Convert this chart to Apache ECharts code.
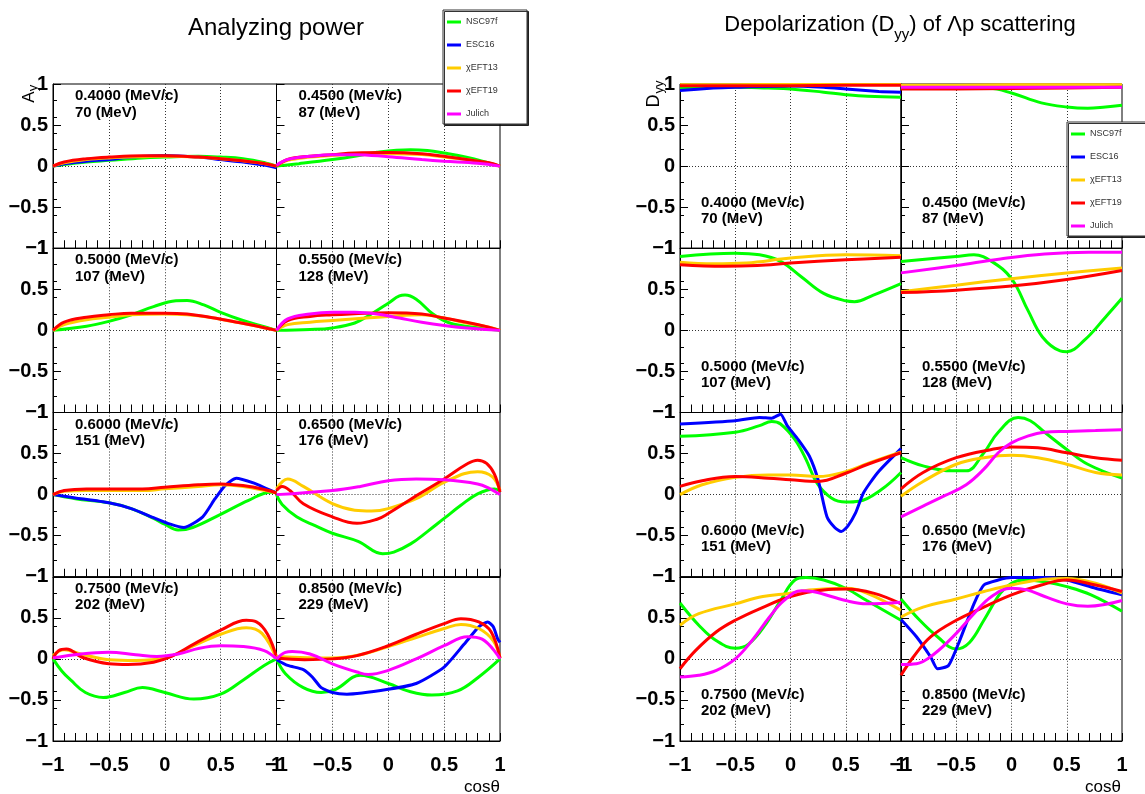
<!DOCTYPE html>
<html>
<head>
<meta charset="utf-8">
<script src="https://cdn.jsdelivr.net/npm/echarts@6/dist/echarts.min.js"></script>
<style>
  html, body { margin: 0; padding: 0; background: #fff; }
  #chart { width: 1145px; height: 794px; }
</style>
</head>
<body>
<div id="chart"></div>
<script>
// Model names (legend order) and beam settings for the eight panels
const MODELS = ['NSC97f', 'ESC16', 'χEFT13', 'χEFT19', 'Julich'];
const MOMENTA = ['0.4000', '0.4500', '0.5000', '0.5500', '0.6000', '0.6500', '0.7500', '0.8500'];
const ENERGIES = ['70', '87', '107', '128', '151', '176', '202', '229'];

// Analyzing power A_y vs cos(theta); each panel lists [NSC97f, ESC16, χEFT13, χEFT19, Julich]
const AY_0400 = [
  [[-1,0],[-0.9,0.02],[-0.7,0.05],[-0.5,0.07],[-0.2,0.1],[0,0.11],[0.3,0.12],[0.5,0.11],[0.7,0.09],[0.9,0.04],[1,0]],
  [[-1,0],[-0.9,0.03],[-0.7,0.06],[-0.5,0.08],[-0.3,0.11],[0,0.13],[0.3,0.11],[0.5,0.08],[0.7,0.05],[0.9,0.01],[1,-0.02]],
  [[-1,0],[-0.9,0.04],[-0.7,0.08],[-0.5,0.1],[-0.2,0.115],[0,0.12],[0.3,0.11],[0.5,0.09],[0.7,0.065],[0.9,0.03],[1,0]],
  [[-1,0],[-0.9,0.05],[-0.7,0.09],[-0.5,0.11],[-0.2,0.125],[0,0.125],[0.3,0.11],[0.5,0.09],[0.7,0.065],[0.9,0.03],[1,0]],
  null
];
const AY_0450 = [
  [[-1,0],[-0.8,0.03],[-0.5,0.08],[-0.3,0.12],[-0.1,0.17],[0.2,0.2],[0.35,0.19],[0.5,0.16],[0.7,0.11],[0.9,0.04],[1,0]],
  null,
  [[-1,0],[-0.9,0.07],[-0.7,0.11],[-0.5,0.13],[-0.2,0.15],[0,0.15],[0.3,0.14],[0.5,0.11],[0.7,0.08],[0.9,0.03],[1,0]],
  [[-1,0],[-0.9,0.08],[-0.7,0.12],[-0.5,0.14],[-0.3,0.16],[0,0.165],[0.3,0.15],[0.5,0.12],[0.7,0.08],[0.9,0.04],[1,0]],
  [[-1,0.01],[-0.9,0.08],[-0.7,0.12],[-0.5,0.14],[-0.3,0.14],[0,0.115],[0.3,0.08],[0.5,0.06],[0.8,0.035],[1,0]]
];
const AY_0500 = [
  [[-1,0],[-0.7,0.05],[-0.5,0.11],[-0.3,0.19],[-0.1,0.29],[0.1,0.36],[0.2,0.365],[0.35,0.31],[0.5,0.22],[0.7,0.12],[0.85,0.06],[1,0]],
  null,
  [[-1,0],[-0.9,0.07],[-0.7,0.13],[-0.5,0.16],[-0.3,0.19],[0,0.2],[0.2,0.19],[0.4,0.16],[0.6,0.11],[0.8,0.06],[1,0]],
  [[-1,0],[-0.9,0.1],[-0.7,0.16],[-0.5,0.19],[-0.3,0.21],[0,0.21],[0.2,0.2],[0.4,0.16],[0.6,0.11],[0.8,0.06],[1,0]],
  null
];
const AY_0550 = [
  [[-1,0],[-0.7,0.01],[-0.5,0.03],[-0.3,0.09],[-0.15,0.2],[0,0.33],[0.1,0.42],[0.15,0.43],[0.25,0.38],[0.4,0.2],[0.55,0.09],[0.75,0.04],[1,0]],
  null,
  [[-1,0],[-0.9,0.07],[-0.7,0.1],[-0.5,0.12],[-0.2,0.15],[0,0.17],[0.3,0.19],[0.5,0.15],[0.7,0.09],[0.9,0.04],[1,0]],
  [[-1,0],[-0.9,0.12],[-0.7,0.17],[-0.5,0.19],[-0.2,0.21],[0,0.215],[0.3,0.2],[0.5,0.15],[0.7,0.1],[0.9,0.04],[1,0]],
  [[-1,0],[-0.9,0.14],[-0.7,0.2],[-0.5,0.22],[-0.3,0.22],[-0.1,0.2],[0.1,0.15],[0.3,0.1],[0.5,0.06],[0.7,0.03],[1,0]]
];
const AY_0600 = [
  [[-1,0],[-0.8,-0.05],[-0.5,-0.1],[-0.3,-0.17],[-0.1,-0.29],[0,-0.36],[0.12,-0.43],[0.25,-0.4],[0.5,-0.24],[0.75,-0.07],[0.95,0.03],[1,0.03]],
  [[-1,0],[-0.8,-0.04],[-0.5,-0.1],[-0.3,-0.17],[-0.1,-0.28],[0.05,-0.36],[0.17,-0.4],[0.34,-0.27],[0.45,-0.05],[0.54,0.11],[0.64,0.2],[0.8,0.14],[0.9,0.08],[1,0.02]],
  [[-1,0],[-0.9,0.04],[-0.7,0.05],[-0.5,0.05],[-0.2,0.05],[0,0.07],[0.3,0.1],[0.5,0.12],[0.7,0.1],[0.9,0.05],[1,0.02]],
  [[-1,0],[-0.9,0.05],[-0.7,0.07],[-0.5,0.07],[-0.2,0.07],[0,0.09],[0.3,0.12],[0.5,0.13],[0.7,0.11],[0.9,0.06],[1,0.02]],
  null
];
const AY_0650 = [
  [[-1,0],[-0.95,-0.12],[-0.82,-0.27],[-0.65,-0.38],[-0.5,-0.47],[-0.27,-0.57],[-0.05,-0.72],[0.05,-0.7],[0.2,-0.6],[0.35,-0.45],[0.5,-0.29],[0.65,-0.13],[0.8,0.01],[0.95,0.07],[1,0.05]],
  null,
  [[-1,0.07],[-0.9,0.19],[-0.76,0.1],[-0.5,-0.11],[-0.3,-0.19],[-0.15,-0.2],[0,-0.17],[0.28,-0.03],[0.5,0.15],[0.8,0.28],[0.93,0.22],[1,0.05]],
  [[-1,0.05],[-0.95,0.1],[-0.88,0.05],[-0.76,-0.11],[-0.5,-0.27],[-0.28,-0.35],[-0.1,-0.3],[0,-0.23],[0.28,0.01],[0.5,0.19],[0.7,0.37],[0.8,0.42],[0.88,0.38],[0.95,0.25],[1,0.03]],
  [[-1,0],[-0.5,0.05],[-0.25,0.1],[0,0.17],[0.25,0.19],[0.5,0.18],[0.8,0.13],[0.9,0.08],[1,0]]
];
const AY_0750 = [
  [[-1,0],[-0.92,-0.15],[-0.84,-0.26],[-0.71,-0.41],[-0.55,-0.47],[-0.36,-0.41],[-0.2,-0.35],[0,-0.41],[0.26,-0.49],[0.5,-0.43],[0.7,-0.26],[0.89,-0.08],[1,0]],
  null,
  [[-1,0.04],[-0.9,0.11],[-0.75,0.06],[-0.5,-0.01],[-0.26,-0.02],[0,0.01],[0.26,0.16],[0.5,0.3],[0.73,0.38],[0.87,0.31],[1,0]],
  [[-1,0],[-0.95,0.1],[-0.88,0.12],[-0.74,0.02],[-0.5,-0.06],[-0.33,-0.07],[-0.1,-0.04],[0.06,0.03],[0.26,0.18],[0.5,0.35],[0.73,0.47],[0.82,0.45],[0.92,0.3],[1,0.02]],
  [[-1,0.01],[-0.75,0.06],[-0.5,0.08],[-0.26,0.05],[-0.07,0.03],[0.12,0.06],[0.31,0.13],[0.5,0.16],[0.7,0.15],[0.89,0.1],[1,0]]
];
const AY_0850 = [
  [[-1,0],[-0.92,-0.18],[-0.76,-0.35],[-0.6,-0.41],[-0.47,-0.37],[-0.25,-0.2],[0,-0.3],[0.2,-0.4],[0.39,-0.44],[0.62,-0.39],[0.81,-0.22],[1,0]],
  [[-1,-0.01],[-0.9,-0.08],[-0.76,-0.13],[-0.68,-0.22],[-0.6,-0.35],[-0.5,-0.41],[-0.37,-0.43],[0,-0.37],[0.25,-0.3],[0.5,-0.1],[0.68,0.18],[0.81,0.39],[0.89,0.45],[0.94,0.39],[0.98,0.24],[1,0.2]],
  [[-1,0.03],[-0.5,0.01],[-0.25,0.05],[0,0.15],[0.25,0.26],[0.5,0.37],[0.65,0.42],[0.81,0.37],[0.94,0.22],[1,0.01]],
  [[-1,0.01],[-0.75,-0.01],[-0.5,0],[-0.28,0.04],[0,0.16],[0.25,0.3],[0.5,0.43],[0.65,0.49],[0.81,0.45],[0.92,0.33],[1,0.01]],
  [[-1,0],[-0.92,0.08],[-0.86,0.09],[-0.7,0.06],[-0.5,-0.06],[-0.28,-0.16],[-0.18,-0.19],[0,-0.14],[0.25,0],[0.5,0.16],[0.71,0.27],[0.84,0.24],[1,0]]
];

// Depolarization D_yy vs cos(theta)
const DYY_0400 = [
  [[-1,0.95],[-0.5,0.96],[-0.2,0.95],[0,0.94],[0.3,0.9],[0.5,0.87],[0.7,0.85],[1,0.84]],
  [[-1,0.92],[-0.7,0.95],[-0.5,0.96],[0,0.975],[0.3,0.96],[0.5,0.94],[0.8,0.91],[1,0.9]],
  [[-1,0.99],[-0.5,0.99],[0,0.995],[0.5,0.995],[1,0.995]],
  [[-1,0.98],[-0.5,0.98],[0,0.98],[0.5,0.985],[1,0.985]],
  null
];
const DYY_0450 = [
  [[-1,0.96],[-0.5,0.96],[-0.2,0.95],[0,0.89],[0.27,0.77],[0.5,0.72],[0.69,0.705],[0.85,0.72],[1,0.74]],
  null,
  [[-1,0.985],[-0.5,0.985],[0,0.99],[0.5,0.99],[1,0.99]],
  [[-1,0.94],[-0.5,0.94],[0,0.945],[0.5,0.95],[1,0.96]],
  [[-1,0.96],[-0.5,0.96],[0,0.96],[0.5,0.96],[1,0.96]]
];
const DYY_0500 = [
  [[-1,0.9],[-0.5,0.94],[-0.28,0.92],[-0.09,0.84],[0.1,0.65],[0.3,0.45],[0.5,0.36],[0.58,0.35],[0.75,0.43],[1,0.57]],
  null,
  [[-1,0.83],[-0.7,0.81],[-0.4,0.82],[0,0.88],[0.5,0.92],[1,0.91]],
  [[-1,0.8],[-0.6,0.78],[-0.3,0.79],[0,0.82],[0.5,0.86],[1,0.89]],
  null
];
const DYY_0550 = [
  [[-1,0.84],[-0.5,0.9],[-0.34,0.92],[-0.18,0.84],[0,0.63],[0.15,0.24],[0.28,-0.08],[0.44,-0.25],[0.5,-0.26],[0.66,-0.12],[0.85,0.16],[1,0.39]],
  null,
  [[-1,0.47],[-0.5,0.55],[0,0.63],[0.5,0.7],[1,0.76]],
  [[-1,0.46],[-0.5,0.49],[0,0.54],[0.5,0.62],[1,0.73]],
  [[-1,0.7],[-0.5,0.79],[-0.1,0.87],[0.3,0.93],[0.7,0.95],[1,0.95]]
];
const DYY_0600 = [
  [[-1,0.71],[-0.5,0.76],[-0.28,0.84],[-0.17,0.89],[-0.09,0.86],[0.04,0.67],[0.14,0.43],[0.24,0.14],[0.37,-0.04],[0.5,-0.09],[0.62,-0.08],[0.82,0.06],[1,0.27]],
  [[-1,0.86],[-0.5,0.9],[-0.28,0.94],[-0.17,0.93],[-0.09,0.98],[-0.03,0.84],[0.07,0.67],[0.17,0.47],[0.25,0.18],[0.33,-0.27],[0.4,-0.4],[0.46,-0.45],[0.52,-0.38],[0.59,-0.22],[0.66,0.02],[0.79,0.27],[1,0.56]],
  [[-1,0],[-0.8,0.12],[-0.5,0.21],[-0.2,0.24],[0,0.24],[0.25,0.22],[0.5,0.28],[0.7,0.38],[1,0.52]],
  [[-1,0.1],[-0.8,0.17],[-0.5,0.22],[-0.2,0.2],[0,0.18],[0.25,0.16],[0.5,0.26],[0.7,0.37],[1,0.51]],
  null
];
const DYY_0650 = [
  [[-1,0.45],[-0.8,0.35],[-0.54,0.29],[-0.41,0.29],[-0.25,0.51],[-0.12,0.76],[0.06,0.94],[0.17,0.9],[0.3,0.76],[0.5,0.55],[0.69,0.37],[1,0.2]],
  null,
  [[-1,-0.02],[-0.8,0.16],[-0.5,0.37],[-0.25,0.45],[0,0.48],[0.24,0.45],[0.5,0.37],[0.76,0.27],[1,0.24]],
  [[-1,0.07],[-0.8,0.27],[-0.5,0.45],[-0.18,0.55],[0,0.58],[0.24,0.57],[0.5,0.51],[0.76,0.45],[1,0.42]],
  [[-1,-0.27],[-0.8,-0.14],[-0.6,-0.01],[-0.41,0.12],[-0.25,0.31],[-0.12,0.51],[0,0.63],[0.14,0.71],[0.3,0.76],[0.5,0.77],[0.76,0.78],[1,0.79]]
];
const DYY_0750 = [
  [[-1,0.68],[-0.83,0.41],[-0.67,0.22],[-0.5,0.13],[-0.38,0.18],[-0.22,0.43],[-0.09,0.71],[0.04,0.96],[0.14,0.99],[0.3,0.96],[0.5,0.86],[0.69,0.71],[1,0.47]],
  null,
  [[-1,0.41],[-0.83,0.55],[-0.5,0.67],[-0.25,0.76],[0,0.8],[0.17,0.84],[0.5,0.86],[0.69,0.8],[1,0.59]],
  [[-1,-0.12],[-0.86,0.1],[-0.67,0.33],[-0.5,0.47],[-0.28,0.61],[0,0.76],[0.3,0.84],[0.5,0.85],[0.75,0.8],[1,0.67]],
  [[-1,-0.22],[-0.83,-0.2],[-0.67,-0.14],[-0.5,0],[-0.35,0.22],[-0.19,0.51],[-0.06,0.71],[0.1,0.83],[0.2,0.82],[0.5,0.71],[0.69,0.67],[1,0.69]]
];
const DYY_0850 = [
  [[-1,0.73],[-0.83,0.47],[-0.67,0.27],[-0.5,0.12],[-0.38,0.2],[-0.25,0.47],[-0.1,0.8],[0,0.92],[0.11,0.96],[0.3,0.94],[0.5,0.88],[0.72,0.78],[1,0.58]],
  [[-1,0.48],[-0.86,0.27],[-0.73,0.02],[-0.67,-0.12],[-0.57,-0.08],[-0.47,0.22],[-0.34,0.67],[-0.25,0.9],[-0.12,0.96],[0,0.99],[0.3,0.99],[0.5,0.96],[0.76,0.86],[1,0.78]],
  [[-1,0.51],[-0.8,0.63],[-0.5,0.73],[-0.25,0.82],[0,0.9],[0.3,0.97],[0.5,0.98],[0.76,0.92],[1,0.8]],
  [[-1,-0.2],[-0.89,0.02],[-0.73,0.27],[-0.5,0.47],[-0.25,0.63],[0,0.78],[0.27,0.9],[0.5,0.96],[0.76,0.9],[1,0.82]],
  [[-1,-0.07],[-0.86,-0.06],[-0.7,0.06],[-0.5,0.31],[-0.34,0.55],[-0.18,0.76],[0,0.86],[0.14,0.84],[0.3,0.76],[0.5,0.67],[0.69,0.64],[1,0.71]]
];

const AY_PANELS = [AY_0400, AY_0450, AY_0500, AY_0550, AY_0600, AY_0650, AY_0750, AY_0850];
const DYY_PANELS = [DYY_0400, DYY_0450, DYY_0500, DYY_0550, DYY_0600, DYY_0650, DYY_0750, DYY_0850];

// ---------- styling / layout ----------
const COLORS = ['#00ff00', '#0000ff', '#ffcc00', '#ff0000', '#ff00ff'];
const FONT = '"Liberation Sans", Arial, Helvetica, sans-serif';
const PANEL_TOP = 84;
const PANEL_H = 164.25;
const GROUPS = [
  { panels: AY_PANELS,  left: 53,  width: 223.5, textDx: 22, textDy: [12, 28.5] },
  { panels: DYY_PANELS, left: 680, width: 221,   textDx: 21, textDy: [118.5, 134.5] }
];
const DOTTED = { show: true, showMinLine: false, showMaxLine: false,
                 lineStyle: { color: '#333', type: [1, 2], width: 1 } };

function tickText(v) {
  if (Math.abs(v) < 1e-9) return '0';
  const s = String(Math.round(Math.abs(v) * 100) / 100);
  return (v < 0 ? '\u2212' : '') + s;
}

function textWidth(str, font) {
  const ctx = document.createElement('canvas').getContext('2d');
  ctx.font = font;
  return ctx.measureText(str).width;
}

function txt(x, y, text, fontSize, opts) {
  opts = opts || {};
  return {
    type: 'text', x: x, y: y, rotation: opts.rotation || 0, z: 50,
    style: {
      text: text,
      font: (opts.bold ? 'bold ' : '') + fontSize + 'px ' + FONT,
      fill: '#000',
      textAlign: opts.align || 'left', align: opts.align || 'left',
      textVerticalAlign: 'middle', verticalAlign: 'middle'
    }
  };
}

const grids = [], xAxes = [], yAxes = [], series = [], graphics = [];

GROUPS.forEach((G, g) => {
  G.panels.forEach((panel, i) => {
    const row = Math.floor(i / 2), col = i % 2;
    const gi = g * 8 + i;
    const left = G.left + col * G.width;
    const top = PANEL_TOP + row * PANEL_H;
    grids.push({
      left: left, top: top, width: G.width, height: PANEL_H,
      show: true, borderColor: '#000', borderWidth: 1, backgroundColor: 'transparent',
      containLabel: false, outerBoundsMode: 'none'
    });
    xAxes.push({
      type: 'value', gridIndex: gi, min: -1, max: 1, interval: 0.5, position: 'bottom',
      axisLine: { show: true, onZero: false, lineStyle: { color: '#000', width: 1 } },
      axisTick: { show: true, inside: true, length: 8, lineStyle: { color: '#000', width: 1 } },
      minorTick: { show: true, splitNumber: 5, length: 8, lineStyle: { color: '#000', width: 1 } },
      splitLine: DOTTED,
      minorSplitLine: { show: false },
      axisLabel: {
        show: row === 3, margin: 14, fontSize: 20, fontWeight: 'bold', color: '#000',
        fontFamily: FONT, formatter: tickText, hideOverlap: false,
        showMinLabel: true, showMaxLabel: true
      }
    });
    // labelled y axis (major ticks every 0.5)
    yAxes.push({
      type: 'value', gridIndex: gi, min: -1, max: 1, interval: 0.5, position: 'left',
      axisLine: { show: true, onZero: false, lineStyle: { color: '#000', width: 1 } },
      axisTick: { show: true, inside: true, length: 8, lineStyle: { color: '#000', width: 1 } },
      splitLine: { show: false },
      axisLabel: {
        show: col === 0, margin: 5, fontSize: 20, fontWeight: 'bold', color: '#000',
        fontFamily: FONT, formatter: tickText, hideOverlap: false,
        showMinLabel: true, showMaxLabel: true
      }
    });
    // short ticks every 0.2 along the left edge
    yAxes.push({
      type: 'value', gridIndex: gi, min: -1, max: 1, interval: 0.2, position: 'left', offset: 0,
      axisLine: { show: false, onZero: false },
      axisTick: { show: true, inside: true, length: 4, lineStyle: { color: '#000', width: 1 } },
      axisLabel: { show: false }, splitLine: { show: false }
    });
    // dotted line at zero
    yAxes.push({
      type: 'value', gridIndex: gi, min: -1, max: 1, interval: 1, position: 'left', offset: 0,
      axisLine: { show: false, onZero: false }, axisTick: { show: false }, axisLabel: { show: false },
      splitLine: DOTTED
    });

    panel.forEach((curve, m) => {
      if (!curve) return;
      series.push({
        type: 'line', name: MODELS[m], xAxisIndex: gi, yAxisIndex: gi * 3,
        data: curve, smooth: m === 1 ? 0.2 : 0.4, symbol: 'none', showSymbol: false,
        lineStyle: { width: 3, color: COLORS[m] }, itemStyle: { color: COLORS[m] },
        clip: true, silent: true, z: 3
      });
    });

    graphics.push(txt(left + G.textDx, top + G.textDy[0], MOMENTA[i] + ' (MeV/c)', 15, { bold: true }));
    graphics.push(txt(left + G.textDx, top + G.textDy[1], ENERGIES[i] + ' (MeV)', 15, { bold: true }));
  });
});

// titles
graphics.push(txt(276, 28, 'Analyzing power', 24, { align: 'center' }));
(function () {
  const parts = ['Depolarization (D', 'yy', ') of \u039bp scattering'];
  const sizes = [22, 15, 22];
  const ys = [25, 34.5, 25];
  const widths = parts.map((p, k) => textWidth(p, sizes[k] + 'px ' + FONT));
  let x = 900 - widths.reduce((a, b) => a + b, 0) / 2;
  parts.forEach((p, k) => { graphics.push(txt(x, ys[k], p, sizes[k])); x += widths[k]; });
})();

// y-axis titles (rotated, subscripted)
graphics.push(txt(29, 97, 'A', 17, { align: 'center', rotation: Math.PI / 2 }));
graphics.push(txt(33, 88, 'y', 13, { align: 'center', rotation: Math.PI / 2 }));
graphics.push(txt(654, 101, 'D', 18, { align: 'center', rotation: Math.PI / 2 }));
graphics.push(txt(659, 87, 'yy', 13, { align: 'center', rotation: Math.PI / 2 }));

// x-axis titles
graphics.push(txt(500, 787, 'cos\u03b8', 17, { align: 'right' }));
graphics.push(txt(1121, 787, 'cos\u03b8', 17, { align: 'right' }));

function legendAt(left, top) {
  return {
    show: true, data: MODELS, orient: 'vertical', left: left, top: top,
    icon: 'rect', itemWidth: 14, itemHeight: 3, itemGap: 11,
    padding: [6, 8, 4, 4], selectedMode: false,
    backgroundColor: '#fff', borderColor: '#333', borderWidth: 1, borderRadius: 0,
    shadowColor: 'rgba(0,0,0,0.8)', shadowBlur: 0, shadowOffsetX: 1.5, shadowOffsetY: 1.5,
    textStyle: { fontSize: 9, lineHeight: 12, color: '#333', fontFamily: FONT, width: 53 },
    z: 20
  };
}

const chart = echarts.init(document.getElementById('chart'), null, { renderer: 'canvas', width: 1145, height: 794 });
chart.setOption({
  animation: false,
  backgroundColor: '#fff',
  grid: grids,
  xAxis: xAxes,
  yAxis: yAxes,
  legend: [legendAt(443, 10), legendAt(1067, 122)],
  series: series,
  graphic: { elements: graphics }
});
</script>
</body>
</html>
